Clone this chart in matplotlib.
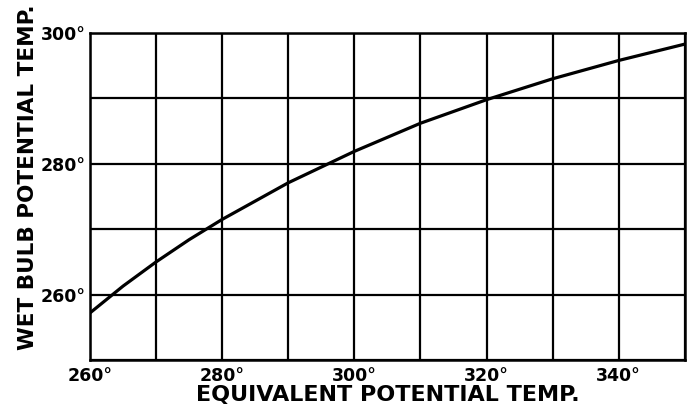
import numpy as np
import matplotlib.pyplot as plt

# curve (equivalent potential temp -> wet bulb potential temp)
theta_e = [260, 265, 270, 275, 280, 290, 300, 310, 320, 330, 340, 350]
theta_w = [257.2, 261.3, 265.0, 268.4, 271.5, 277.1, 281.9, 286.2, 289.8, 293.0, 295.8, 298.3]

x_ticks = np.arange(260, 351, 10)
y_ticks = np.arange(250, 301, 10)
x_labeled = [260, 280, 300, 320, 340]
y_labeled = [260, 280, 300]

plt.rcParams['font.family'] = 'DejaVu Sans'
plt.rcParams['font.weight'] = 'bold'

fig = plt.figure(figsize=(6.94, 4.09), dpi=100)
ax = fig.add_axes([0.1297, 0.1198, 0.857, 0.7995])

ax.plot(theta_e, theta_w, color='black', lw=2.3, solid_capstyle='butt')

ax.set_xlim(260, 350)
ax.set_ylim(250, 300)
ax.set_xticks(x_ticks)
ax.set_yticks(y_ticks)
ax.set_xticklabels([f'{t}°' if t in x_labeled else '' for t in x_ticks])
ax.set_yticklabels([f'{t}°' if t in y_labeled else '' for t in y_ticks])
ax.grid(True, color='black', lw=1.6)
ax.tick_params(length=0, labelsize=12.5)
ax.tick_params(axis='x', pad=5)
ax.tick_params(axis='y', pad=3)
for lbl in ax.get_xticklabels() + ax.get_yticklabels():
    lbl.set_fontweight('bold')
for s in ax.spines.values():
    s.set_linewidth(1.8)

ax.set_xlabel('EQUIVALENT POTENTIAL TEMP.', fontsize=16, fontweight='bold')
ax.xaxis.set_label_coords(0.5, -0.077)
ax.set_ylabel('WET BULB POTENTIAL TEMP.', fontsize=15.5, fontweight='bold')
ax.yaxis.set_label_coords(-0.088, 0.56)

fig.savefig('out.png', dpi=100)
